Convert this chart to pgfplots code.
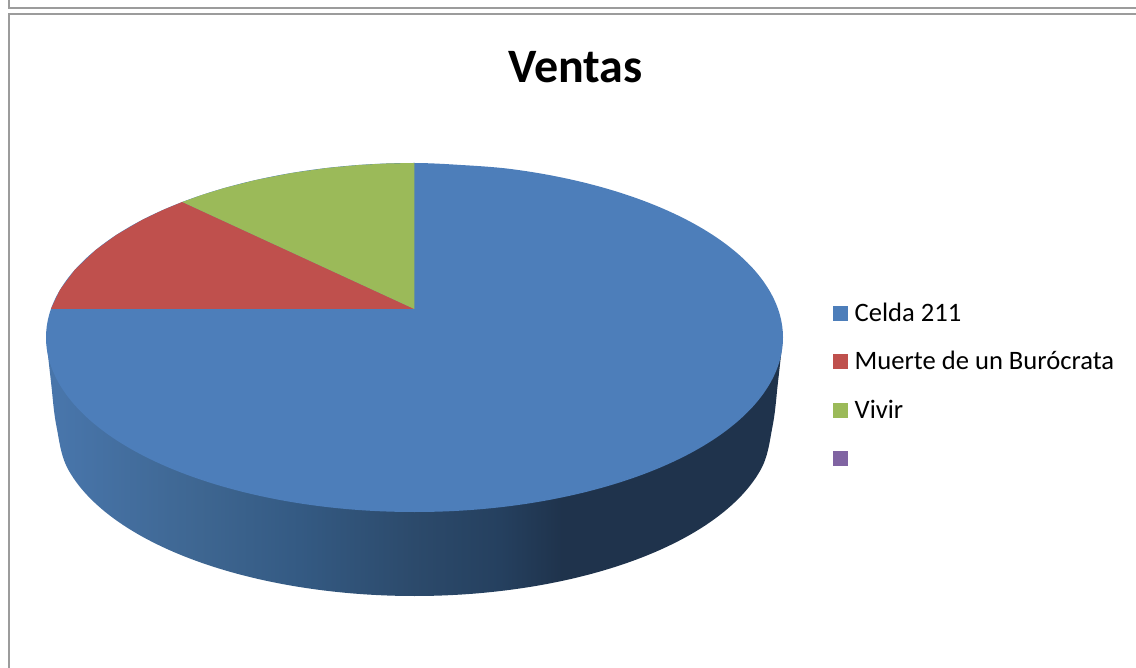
\documentclass[border=0pt]{standalone}
\usepackage{pgfplots}
\pgfplotsset{compat=1.18}
\usepackage{fontspec}
\setmainfont{Carlito}
\definecolor{pblue}{HTML}{4D7EBA}
\definecolor{pred}{HTML}{BF504D}
\definecolor{pgreen}{HTML}{9BBA59}
\definecolor{ppurple}{HTML}{8064A2}
\definecolor{framec}{HTML}{9C9C9C}
\definecolor{s0}{HTML}{4875AA}
\definecolor{s1}{HTML}{3E6691}
\definecolor{s2}{HTML}{345A83}
\definecolor{s3}{HTML}{2C4A6B}
\definecolor{s35}{HTML}{25405F}
\definecolor{s4}{HTML}{1F334C}
\pgfdeclarehorizontalshading{sideshade}{100bp}{
 color(0bp)=(s0); color(26bp)=(s0); color(35.4bp)=(s1); color(42.2bp)=(s2);
 color(50bp)=(s3); color(55.8bp)=(s35); color(60bp)=(s4); color(100bp)=(s4)}
\begin{document}
\begin{tikzpicture}
\begin{axis}[
  scale only axis, width=1136pt, height=668pt,
  xmin=0, xmax=1136, ymin=0, ymax=668, y dir=reverse,
  axis line style={draw=none}, ticks=none, clip=true]
% frames
\addplot[framec, line width=2pt] coordinates {(9,0) (9,8.5) (1136,8.5)};
\addplot[framec, line width=2pt] coordinates {(9,668) (9,14.5) (1136,14.5)};
% side of the pie
\addplot[draw=none, shading=sideshade, smooth, tension=0.61] coordinates {
 (46,337) (51,382) (56.5,426.5) (68.7,470.4) (104.5,511.3) (161.4,546.4) (235.5,573.3)
 (321.8,590.2) (414.5,596) (507.2,590.2) (593.5,573.3) (667.6,546.4) (724.5,511.3)
 (760.3,470.4) (772.5,426.5) (778,382) (783,337)};
% top: Celda 211
\addplot[fill=pblue, draw=none, smooth, tension=0.61] coordinates {
 (414.5,163) (509.9,168.9) (598.8,186.4) (675.1,214.1) (733.6,250.2) (770.4,292.3)
 (783,337.5) (770.4,382.7) (733.6,424.8) (675.1,460.9) (598.8,488.6) (509.9,506.1)
 (414.5,512) (319.1,506.1) (230.2,488.6) (153.9,460.9) (95.4,424.8) (58.6,382.7)
 (46,337.5) (58.6,292.3) (95.4,250.2) (153.9,214.1) (230.2,186.4) (319.1,168.9)
 (414.5,163) (509.9,168.9)};
% Muerte de un Burocrata
\addplot[fill=pred, draw=none] coordinates {
 (414.3,309) (50.9,309) (59.9,290) (74.7,270) (95.7,250) (116.3,235) (142.1,220)
 (162.9,210) (182.3,202)} -- cycle;
% Vivir
\addplot[fill=pgreen, draw=none] coordinates {
 (414.3,309) (182.3,202) (201.8,195) (224.4,188) (255.9,180) (291.6,173) (326.9,168)
 (358.9,165) (386.6,163.5) (414.3,163)} -- cycle;
% legend keys
\addplot[fill=pblue, draw=none] coordinates {(833,306) (848,306) (848,321) (833,321)} -- cycle;
\addplot[fill=pred, draw=none] coordinates {(833,354) (848,354) (848,369) (833,369)} -- cycle;
\addplot[fill=pgreen, draw=none] coordinates {(833,403) (848,403) (848,418) (833,418)} -- cycle;
\addplot[fill=ppurple, draw=none] coordinates {(833,451) (848,451) (848,466) (833,466)} -- cycle;
\node[anchor=base west, inner sep=0pt, font=\fontsize{26.6}{30}\selectfont] at (axis cs:854.5,322) {Celda 211};
\node[anchor=base west, inner sep=0pt, font=\fontsize{26.6}{30}\selectfont] at (axis cs:854.5,370) {Muerte de un Burócrata};
\node[anchor=base west, inner sep=0pt, font=\fontsize{26.6}{30}\selectfont] at (axis cs:854.5,418.5) {Vivir};
\node[anchor=base, inner sep=0pt, font=\bfseries\fontsize{48}{54}\selectfont] at (axis cs:575.5,83) {Ventas};
\end{axis}
\end{tikzpicture}
\end{document}
